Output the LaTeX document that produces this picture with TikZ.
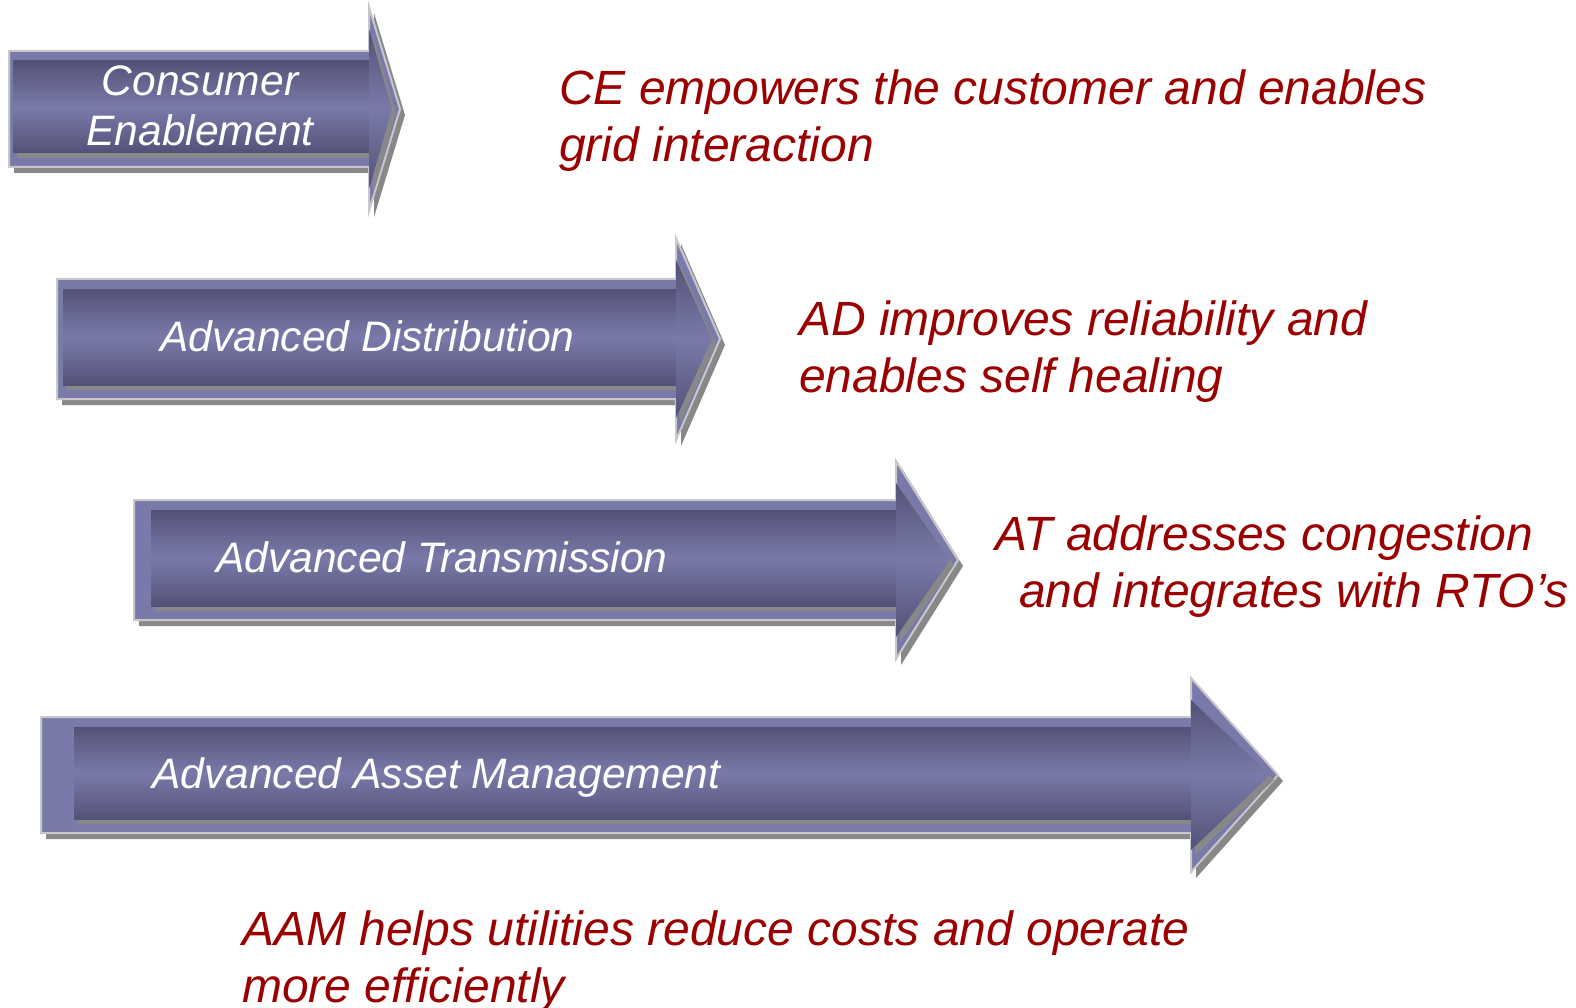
\documentclass[tikz,border=0pt]{standalone}
\usepackage{fontspec}
\setmainfont{Liberation Sans}

\definecolor{arrowfill}{RGB}{122,122,170}
\definecolor{arrowdark}{RGB}{82,82,120}
\definecolor{arrowedge}{RGB}{200,200,204}
\definecolor{arrowshadow}{RGB}{136,136,136}
\definecolor{notered}{RGB}{155,0,0}

% #1 left, #2 inner left, #3 head base, #4 tip, #5 middle, #6 half body, #7 half head
\newcommand{\stagearrow}[7]{%
  \fill[arrowshadow, shift={(5,6)}] (#1,#5-#6) -- (#3,#5-#6) -- (#3,#5-#7) -- (#4,#5)
    -- (#3,#5+#7) -- (#3,#5+#6) -- (#1,#5+#6) -- cycle;
  \filldraw[fill=arrowfill, draw=arrowedge, line width=2pt] (#1,#5-#6) -- (#3,#5-#6)
    -- (#3,#5-#7) -- (#4,#5) -- (#3,#5+#7) -- (#3,#5+#6) -- (#1,#5+#6) -- cycle;
  % inner raised part
  \fill[arrowshadow, shift={(4,5)}] (#2,#5-#6+10) -- (#3,#5-#6+10) -- (#3,#5-#7+22)
    -- (#4-8,#5) -- (#3,#5+#7-22) -- (#3,#5+#6-14) -- (#2,#5+#6-14) -- cycle;
  \shade[top color=arrowdark, bottom color=arrowdark, middle color=arrowfill]
    (#2,#5-#6+10) rectangle (#3+1,#5+#6-14);
  \shade[top color=arrowdark, bottom color=arrowdark, middle color=arrowfill]
    (#3,#5-#7+22) -- (#4-8,#5) -- (#3,#5+#7-22) -- cycle;
}

\begin{document}
\begin{tikzpicture}[%
x=1pt, y=-1pt,
stagelabel/.style={text=white, font=\fontsize{42.6}{50}\selectfont\itshape, inner sep=0pt, align=center},
stagenote/.style={text=notered, font=\fontsize{48}{57}\selectfont\itshape, inner sep=0pt, align=left, anchor=base west}
]

\useasboundingbox (0,0) rectangle (1576,1008);

\stagearrow{9}{13}{369}{400}{109}{58}{102}
\stagearrow{57}{63}{676}{720}{339}{60}{101}
\stagearrow{134}{151}{896}{958}{560}{60}{99}
\stagearrow{41}{74}{1191}{1278}{775}{58}{97}

% labels on the arrows
\node[stagelabel] (ce) at (200,106) {Consumer\\Enablement};
\node[stagelabel, anchor=base west] (ad) at (160,351) {Advanced Distribution};
\node[stagelabel, anchor=base west] (at) at (216,572) {Advanced Transmission};
\node[stagelabel, anchor=base west] (aam) at (152,788) {Advanced Asset Management};

% notes (base = last line)
\node[stagenote] (cenote) at (559,162) {CE empowers the customer and enables\\grid interaction};
\node[stagenote] (adnote) at (799,392) {AD improves reliability and\\enables self healing};
\node[stagenote] (atnote) at (995,607) {AT addresses congestion\\\hspace*{24pt}and integrates with RTO’s};
\node[stagenote] (aamnote) at (242,1002) {AAM helps utilities reduce costs and operate\\more efficiently};

\end{tikzpicture}
\end{document}
